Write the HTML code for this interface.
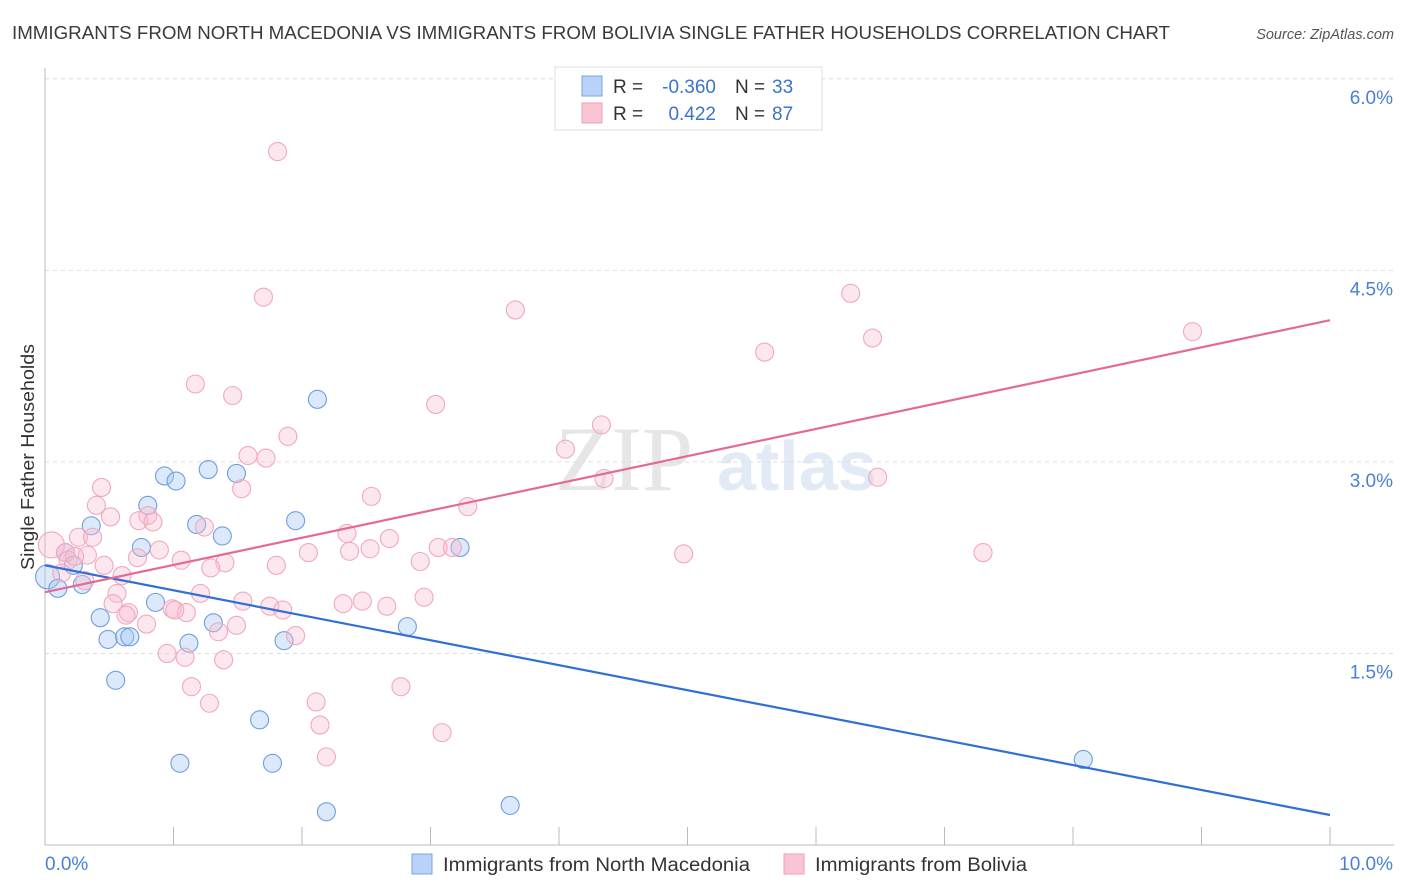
<!DOCTYPE html>
<html><head><meta charset="utf-8">
<style>
body{margin:0;background:#fff;font-family:"Liberation Sans",sans-serif;}
</style></head>
<body>
<svg id="chart" width="1406" height="892" xmlns="http://www.w3.org/2000/svg" style="display:block">
<text x="12" y="39" font-size="18.5" fill="#3a3a3a" textLength="1158" lengthAdjust="spacingAndGlyphs">IMMIGRANTS FROM NORTH MACEDONIA VS IMMIGRANTS FROM BOLIVIA SINGLE FATHER HOUSEHOLDS CORRELATION CHART</text>
<text x="1394" y="39" font-size="14.5" fill="#555" font-style="italic" text-anchor="end">Source: ZipAtlas.com</text>
<g>
<text x="555" y="490" font-size="92" fill="#e6e6e6" font-family="Liberation Serif, serif">ZIP</text>
<text x="717" y="490" font-size="70" fill="#e2eaf6" font-weight="bold">atlas</text>
</g>
<g id="grid"></g>
<g id="axes"></g>
<g id="blue"></g>
<g id="pink"></g>
<g id="lines"></g>
<text transform="translate(34,457) rotate(-90)" font-size="18.5" fill="#333" text-anchor="middle" textLength="226" lengthAdjust="spacingAndGlyphs">Single Father Households</text>
<g>
<rect x="555" y="67" width="267" height="63" fill="#fff" stroke="#ddd"/>
<rect x="582" y="76" width="20" height="20" fill="#b8d3f5" stroke="#7aa6e6"/>
<rect x="582" y="103" width="20" height="20" fill="#f9c4d3" stroke="#ef9fb8"/>
<text x="613" y="93" font-size="19" fill="#333">R =</text>
<text x="716" y="93" font-size="19" fill="#3b73d0" text-anchor="end">-0.360</text>
<text x="735" y="93" font-size="19" fill="#333">N =</text>
<text x="772" y="93" font-size="19" fill="#3b73d0">33</text>
<text x="613" y="120" font-size="19" fill="#333">R =</text>
<text x="716" y="120" font-size="19" fill="#3b73d0" text-anchor="end">0.422</text>
<text x="735" y="120" font-size="19" fill="#333">N =</text>
<text x="772" y="120" font-size="19" fill="#3b73d0">87</text>
</g>
<g>
<rect x="412" y="854" width="20" height="20" fill="#b8d3f5" stroke="#7aa6e6"/>
<text x="443" y="871" font-size="19" fill="#333" textLength="307" lengthAdjust="spacingAndGlyphs">Immigrants from North Macedonia</text>
<rect x="784" y="854" width="20" height="20" fill="#f9c4d3" stroke="#ef9fb8"/>
<text x="815" y="871" font-size="19" fill="#333" textLength="212" lengthAdjust="spacingAndGlyphs">Immigrants from Bolivia</text>
</g>
</svg>
<script>
const yTicks=[1.5,3.0,4.5,6.0];
const yTickLabels=["1.5%","3.0%","4.5%","6.0%"];
const xTickLabels=["0.0%","10.0%"];
const blueX=[0.02,0.10,0.16,0.22,0.29,0.36,0.43,0.49,0.55,0.62,0.66,0.75,0.80,0.86,0.93,1.02,1.05,1.12,1.18,1.27,1.31,1.38,1.49,1.67,1.77,1.86,1.95,2.12,2.19,2.82,3.23,3.62,8.08];
const blueY=[2.10,2.01,2.29,2.19,2.04,2.50,1.78,1.61,1.29,1.63,1.63,2.33,2.66,1.90,2.89,2.85,0.64,1.58,2.51,2.94,1.74,2.42,2.91,0.98,0.64,1.60,2.54,3.49,0.26,1.71,2.33,0.31,0.67];
const pinkX=[1.81,1.70,3.66,6.27,5.60,6.44,8.93,1.17,1.46,3.04,1.89,1.58,1.72,4.33,4.05,4.35,6.48,0.44,1.53,2.54,0.40,3.29,0.51,0.80,0.73,0.84,1.24,2.35,0.26,0.37,2.68,0.05,0.16,0.33,0.89,0.72,2.05,2.37,2.53,3.06,3.17,4.97,7.30,0.18,0.46,1.06,1.40,1.80,1.29,2.92,0.60,0.13,0.56,1.21,2.95,0.53,1.54,1.75,2.32,2.47,2.66,1.85,0.65,0.63,0.99,1.10,1.01,1.49,0.79,1.35,1.95,0.95,1.09,1.39,1.14,2.77,1.28,2.11,2.14,3.09,2.19,0.23,0.31];
const pinkY=[5.43,4.29,4.19,4.32,3.86,3.97,4.02,3.61,3.52,3.45,3.20,3.05,3.03,3.29,3.10,2.87,2.88,2.80,2.79,2.73,2.66,2.65,2.57,2.58,2.54,2.53,2.49,2.44,2.41,2.41,2.40,2.35,2.29,2.27,2.31,2.25,2.29,2.30,2.32,2.33,2.33,2.28,2.29,2.23,2.19,2.23,2.21,2.19,2.17,2.22,2.11,2.13,1.97,1.97,1.94,1.89,1.91,1.87,1.89,1.91,1.87,1.84,1.82,1.80,1.85,1.82,1.84,1.72,1.73,1.67,1.64,1.50,1.47,1.45,1.24,1.24,1.11,1.12,0.94,0.88,0.69,2.26,2.07];
const blueLine=[[0,2.19],[10,0.235]];
const pinkLine=[[0,1.98],[10,4.11]];
const NS='http://www.w3.org/2000/svg';
const X0=45,X1=1330,Y0=845,PXY=127.7;
const sx=v=>X0+(X1-X0)*v/10;
const sy=v=>Y0-v*PXY;
function mk(tag,attrs,parent){const e=document.createElementNS(NS,tag);for(const k in attrs)e.setAttribute(k,attrs[k]);parent.appendChild(e);return e;}
const grid=document.getElementById('grid');
yTicks.forEach((t,i)=>{
 const l=mk('line',{x1:X0,x2:1394,y1:sy(t),y2:sy(t),stroke:'#ddd','stroke-dasharray':'4,4'},grid);
 
 
 const tx=mk('text',{x:1393,y:sy(t)+25,'font-size':19,fill:'#4a7fd4','text-anchor':'end'},grid);
 tx.textContent=yTickLabels[i];
 
 
});
const axes=document.getElementById('axes');
mk('line',{x1:X0,x2:X0,y1:68,y2:Y0,stroke:'#bbb'},axes);
mk('line',{x1:X0,x2:1394,y1:Y0,y2:Y0,stroke:'#bbb'},axes);
for(let i=1;i<=10;i++){const t=mk('line',{x1:sx(i),x2:sx(i),y1:Y0,y2:Y0-18,stroke:'#bbb'},axes);
 
 }
const xl0=mk('text',{x:45,y:870,'font-size':19,fill:'#4a7fd4'},axes);xl0.textContent=xTickLabels[0];


const xl1=mk('text',{x:1393,y:870,'font-size':19,fill:'#4a7fd4','text-anchor':'end'},axes);xl1.textContent=xTickLabels[1];


const pg=document.getElementById('pink');
pinkX.forEach((v,i)=>{const c=mk('circle',{cx:sx(v),cy:sy(pinkY[i]),r:i===31?13:9,fill:'rgba(248,185,205,0.35)',stroke:'#f0a8bf','stroke-width':1.1},pg);
 
 });
const bg=document.getElementById('blue');
blueX.forEach((v,i)=>{const c=mk('circle',{cx:sx(v),cy:sy(blueY[i]),r:i===0?12:9,fill:'rgba(165,200,242,0.4)',stroke:'#6f9ee0','stroke-width':1.1},bg);
 
 });
const lg=document.getElementById('lines');
const bl=mk('line',{x1:sx(blueLine[0][0]),y1:sy(blueLine[0][1]),x2:sx(blueLine[1][0]),y2:sy(blueLine[1][1]),stroke:'#2f6fd6','stroke-width':2.2},lg);


const pl=mk('line',{x1:sx(pinkLine[0][0]),y1:sy(pinkLine[0][1]),x2:sx(pinkLine[1][0]),y2:sy(pinkLine[1][1]),stroke:'#e46a93','stroke-width':2.2},lg);


</script>
</body></html>
